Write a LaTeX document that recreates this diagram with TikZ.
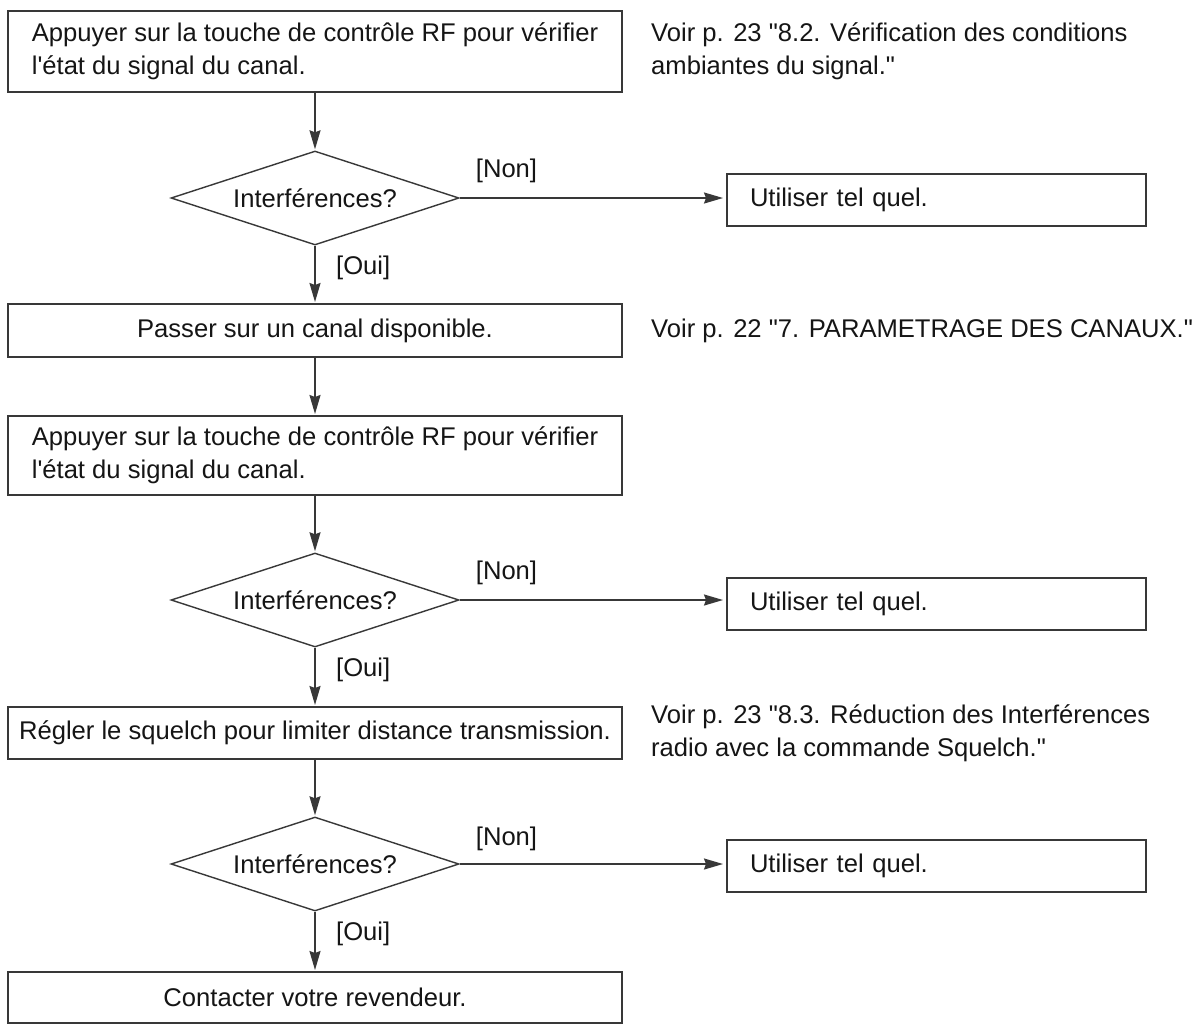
\documentclass[tikz,border=0pt]{standalone}
\usepackage{fontspec}
\setmainfont{Liberation Sans}[Ligatures=TeXOff]
\usetikzlibrary{shapes.geometric,arrows.meta}
\definecolor{edgec}{HTML}{383838}
\definecolor{txtc}{HTML}{151515}
\begin{document}
\begin{tikzpicture}[x=1pt,y=-1pt,
  font=\fontsize{25.6}{33}\selectfont, text=txtc,
  stepbox/.style={draw=edgec, line width=2pt, rectangle, minimum width=614pt, inner sep=0pt, align=left},
  usebox/.style={draw=edgec, line width=2pt, rectangle, minimum width=419pt, minimum height=52pt, text width=373pt, inner xsep=23pt, inner ysep=0pt, align=left},
  decide/.style={draw=edgec, line width=1.4pt, diamond, minimum width=288pt, minimum height=94pt, inner sep=0pt, aspect=3},
  flow/.style={draw=edgec, line width=1.7pt, -{Stealth[length=19pt,width=11pt,inset=2pt]}, shorten >=1pt},
  lbl/.style={inner sep=0pt, anchor=west},
  note/.style={inner sep=0pt, align=left, anchor=west}]
\fill[white] (0,0) rectangle (1198,1026);
\useasboundingbox (0,0) rectangle (1198,1026);

\node[stepbox, minimum height=81pt] (b1) at (315,51.5) {Appuyer sur la touche de contrôle RF pour vérifier\\l'état du signal du canal.};
\node[decide] (d1) at (315,198) {Interférences?};
\node[usebox] (u1) at (936.5,199.5) {Utiliser tel quel.};
\node[stepbox, minimum height=53pt] (b2) at (315,330.5) {Passer sur un canal disponible.};
\node[stepbox, minimum height=79pt] (b3) at (315,455.5) {Appuyer sur la touche de contrôle RF pour vérifier\\l'état du signal du canal.};
\node[decide] (d2) at (315,600) {Interférences?};
\node[usebox] (u2) at (936.5,604) {Utiliser tel quel.};
\node[stepbox, minimum height=52pt] (b4) at (315,733) {Régler le squelch pour limiter distance transmission.};
\node[decide] (d3) at (315,864) {Interférences?};
\node[usebox] (u3) at (936.5,866) {Utiliser tel quel.};
\node[stepbox, minimum height=51pt] (b5) at (315,997.5) {Contacter votre revendeur.};

\node[note] (v1) at ([xshift=28pt]b1.east) {Voir p. 23 "8.2. Vérification des conditions\\ambiantes du signal."};
\node[note] (v2) at ([xshift=28pt]b2.east) {Voir p. 22 "7. PARAMETRAGE DES CANAUX."};
\node[note] (v3) at ([xshift=28pt]b4.east) {Voir p. 23 "8.3. Réduction des Interférences\\radio avec la commande Squelch."};

\draw[flow] (b1) -- (d1);
\draw[flow] (d1) -- (b2);
\draw[flow] (b2) -- (b3);
\draw[flow] (b3) -- (d2);
\draw[flow] (d2) -- (b4);
\draw[flow] (b4) -- (d3);
\draw[flow] (d3) -- (b5);
\draw[flow, shorten >=3pt] (d1.east) -- (d1.east -| u1.west);
\draw[flow, shorten >=3pt] (d2.east) -- (d2.east -| u2.west);
\draw[flow, shorten >=3pt] (d3.east) -- (d3.east -| u3.west);

\node[lbl] (n1) at ([xshift=16pt, yshift=27pt]d1.east) {[Non]};
\node[lbl] (n2) at ([xshift=16pt, yshift=27pt]d2.east) {[Non]};
\node[lbl] (n3) at ([xshift=16pt, yshift=25pt]d3.east) {[Non]};
\node[lbl] (o1) at ([xshift=21pt, yshift=-22pt]d1.south) {[Oui]};
\node[lbl] (o2) at ([xshift=21pt, yshift=-22pt]d2.south) {[Oui]};
\node[lbl] (o3) at ([xshift=21pt, yshift=-22pt]d3.south) {[Oui]};
\end{tikzpicture}
\end{document}
